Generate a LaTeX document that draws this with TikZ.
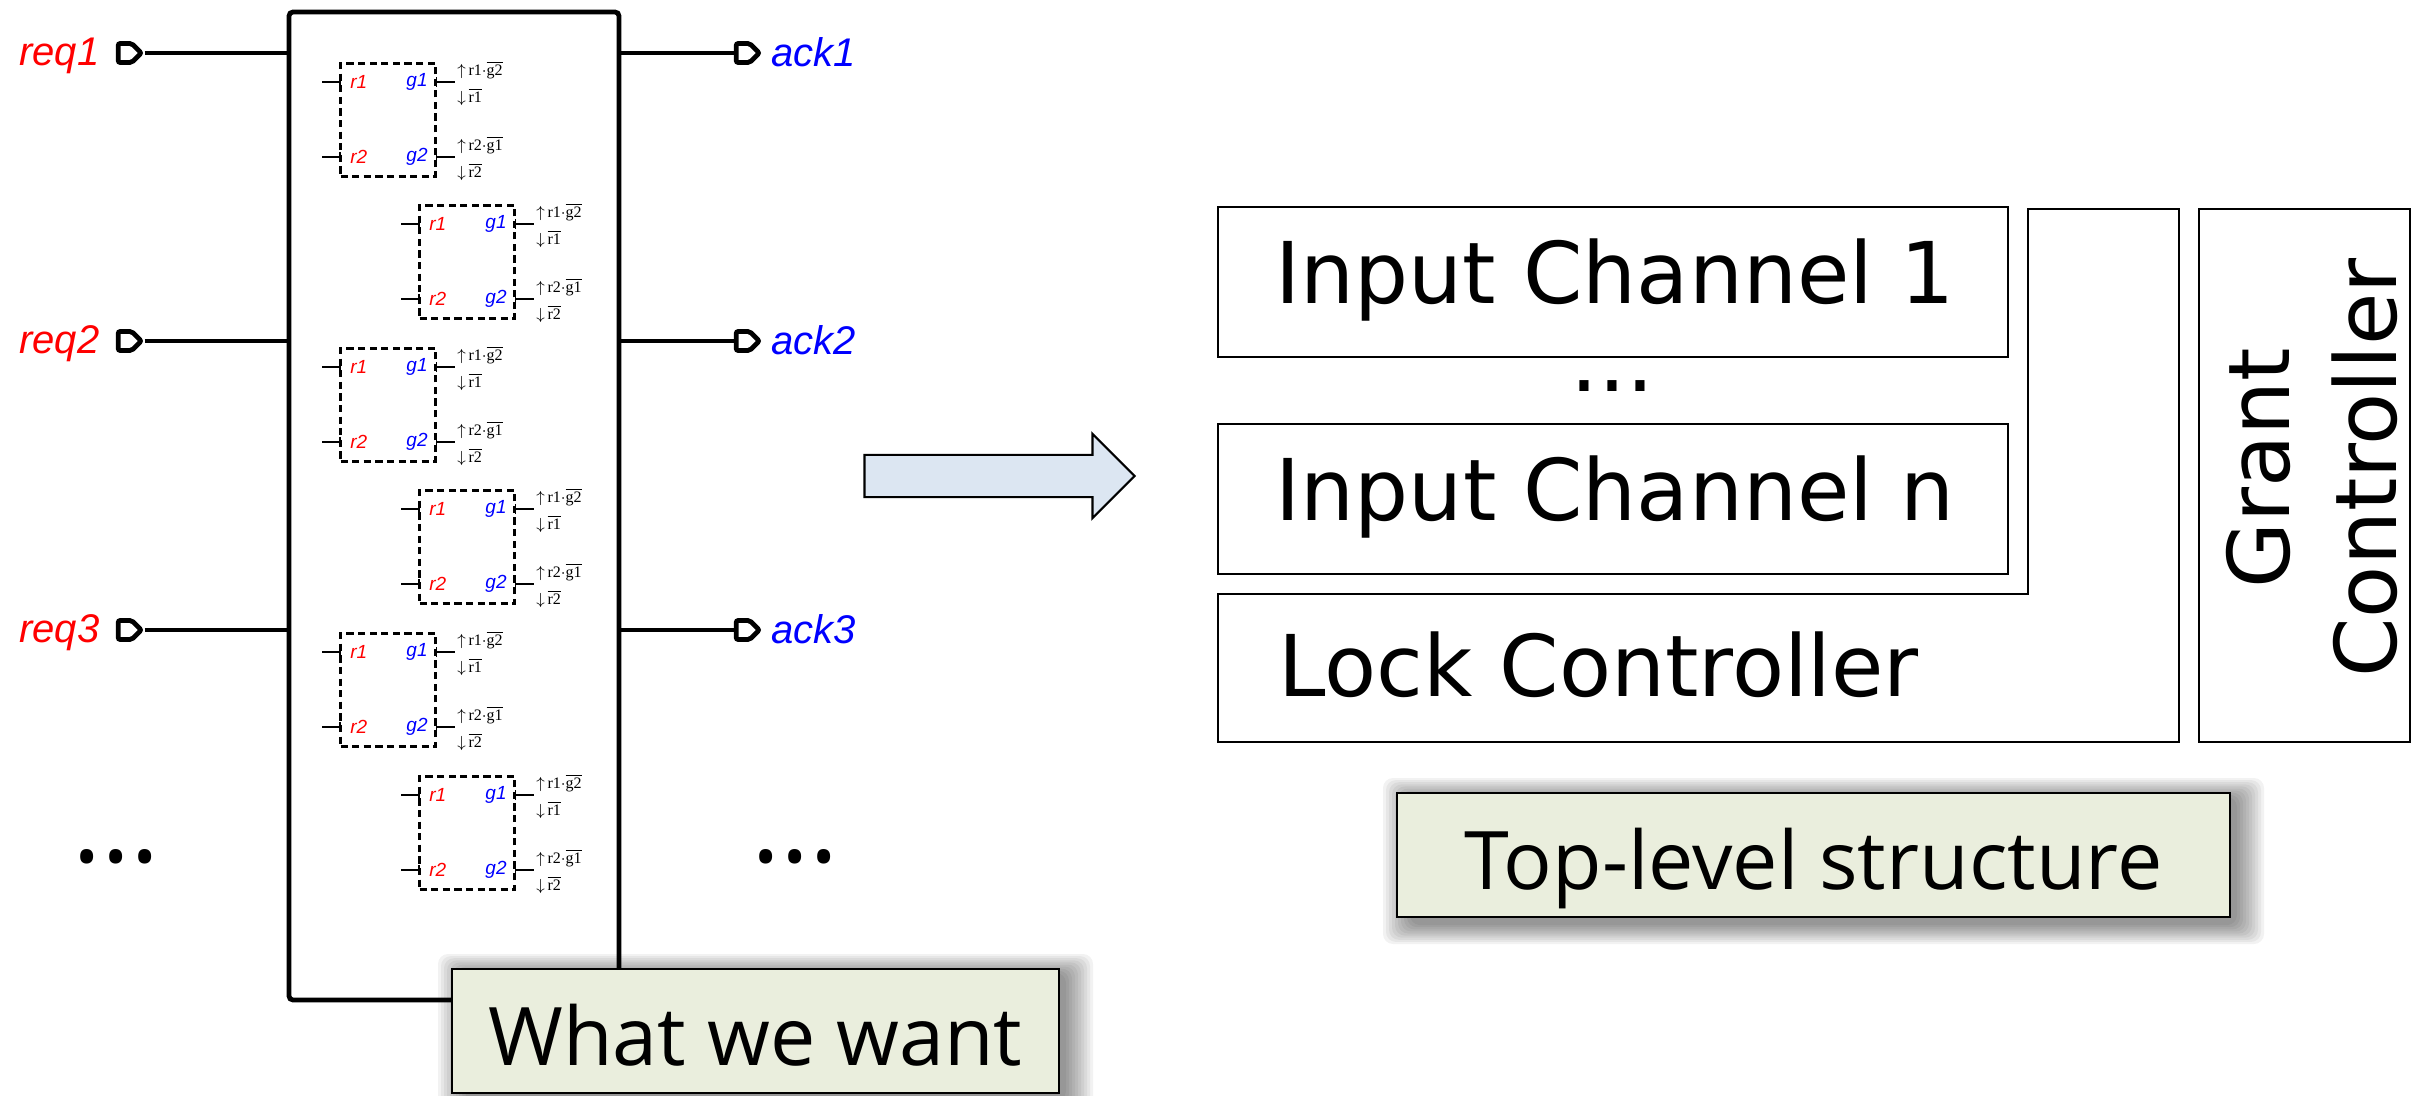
\documentclass[tikz,border=0pt]{standalone}
\usepackage{fontspec}
\setmainfont{Open Sans}
\newfontfamily\dejafont{DejaVu Sans}
\newfontfamily\arialfont{Liberation Sans}
\newfontfamily\timesfont{Liberation Serif}
\usetikzlibrary{shapes}
\usetikzlibrary{shapes.arrows}
\usetikzlibrary{shapes.symbols}
\usetikzlibrary{positioning}
\usetikzlibrary{arrows.meta}
\usetikzlibrary{calc}

\definecolor{notefill}{RGB}{234,238,221}
\definecolor{arrowfill}{RGB}{220,230,242}

\newcommand{\ovl}[1]{$\overline{\mbox{#1}}$}
\newcommand{\softshadow}[4]{%
	\foreach \d in {3,6,...,30}
	\fill[black,opacity=0.05,rounded corners=5pt] (#1+16-\d,#2+6-0.7*\d) rectangle (#3+4+\d,#4+6+0.7*\d);%
}

\tikzset{
	pin node/.style={signal,signal to=east,draw,line width=2.4pt,minimum width=11.5pt,minimum height=9.5pt,inner sep=0pt,signal pointer angle=90,rounded corners=1pt},
	wire/.style={line width=2pt},
	main box/.style={draw,rectangle,line width=2.4pt,rounded corners=2pt,inner sep=0pt,outer sep=0pt},
	req label/.style={font=\arialfont\itshape\fontsize{20}{22}\selectfont,text=red,inner sep=0pt},
	ack label/.style={font=\arialfont\itshape\fontsize{20}{22}\selectfont,text=blue,inner sep=0pt},
	unit box/.style={draw,rectangle,dash pattern=on 3.6pt off 2.2pt,line width=1.1pt,minimum width=47.5pt,minimum height=56.5pt,inner sep=0pt,outer sep=0pt},
	r sig/.style={font=\arialfont\itshape\fontsize{9.5}{10}\selectfont,text=red,inner sep=0pt,anchor=west},
	g sig/.style={font=\arialfont\itshape\fontsize{9.5}{10}\selectfont,text=blue,inner sep=0pt,anchor=east},
	stub/.style={line width=0.6pt},
	spec/.style={font=\timesfont\fontsize{8}{9}\selectfont,inner sep=0pt,anchor=west},
	block/.style={draw,rectangle,line width=0.8pt,inner sep=0pt,outer sep=0pt},
	big text/.style={font=\dejafont\fontsize{42.6}{48}\selectfont,inner sep=0pt},
	note/.style={draw,rectangle,line width=0.9pt,fill=notefill,inner sep=0pt,outer sep=0pt,text height=48pt,text depth=14pt,font=\fontsize{40.4}{44}\selectfont}
}

\begin{document}
\begin{tikzpicture}[x=0.5pt,y=-0.5pt]
		\useasboundingbox (0,0) rectangle (2420,1096);
		
		\node[main box,minimum width=165pt,minimum height=494pt] at (454,506) (main) {};
		
		% request and acknowledge pins
		\foreach \n/\y in {1/53,2/341,3/630} {
			\node[pin node] at (125,\y) (req\n) {};
			\node[req label,left=8pt of req\n,yshift=-1.5pt] (reqlabel\n) {req\n};
			\draw[wire] (req\n.east) -- (req\n.east -| main.west);
			\node[pin node] at (743,\y) (ack\n) {};
			\node[ack label,right=4pt of ack\n,yshift=0.5pt] (acklabel\n) {ack\n};
			\draw[wire] (main.east |- ack\n.west) -- (ack\n.west);
		}
		\node[font=\fontsize{55}{55}\selectfont] at (116,857) (dotsleft) {...};
		\node[font=\fontsize{55}{55}\selectfont] at (795,857) (dotsright) {...};
		
		% the six small units
		\foreach \i/\x/\y in {1/388/120,2/467/262,3/388/405,4/467/547,5/388/690,6/467/833} {
			\begin{scope}[shift={(\x,\y)}]
				\node[unit box] at (0,0) (unit\i) {};
				\node[r sig] at (-38,-38) (r1\i) {r1};
				\node[r sig] at (-38,37) (r2\i) {r2};
				\node[g sig] at (40,-38) (g1\i) {g1};
				\node[g sig] at (40,37) (g2\i) {g2};
				\coordinate (in1\i) at (-66,-38);
				\coordinate (in2\i) at (-66,37);
				\coordinate (out1\i) at (67,-38);
				\coordinate (out2\i) at (67,37);
				\draw[stub,-{Bar[width=5pt,length=0.6pt]}] (in1\i) -- (in1\i -| unit\i.west);
				\draw[stub,-{Bar[width=5pt,length=0.6pt]}] (in2\i) -- (in2\i -| unit\i.west);
				\draw[stub,{Bar[width=5pt,length=0.6pt]}-] (out1\i -| unit\i.east) -- (out1\i);
				\draw[stub,{Bar[width=5pt,length=0.6pt]}-] (out2\i -| unit\i.east) -- (out2\i);
				\node[spec] at (69,-50) (up1\i) {$\uparrow$\,r1$\cdot$\ovl{g2}};
				\node[spec] at (69,-23) (dn1\i) {$\downarrow$\,\ovl{r1}};
				\node[spec] at (69,25) (up2\i) {$\uparrow$\,r2$\cdot$\ovl{g1}};
				\node[spec] at (69,52) (dn2\i) {$\downarrow$\,\ovl{r2}};
			\end{scope}
		}
		
		\node[draw,single arrow,line width=1.1pt,fill=arrowfill,minimum height=135pt,minimum width=41pt,single arrow head extend=10.5pt,single arrow tip angle=90,inner xsep=0pt,inner ysep=10pt,outer sep=0pt] at (989,476) (go) {};
		
		% top-level structure
		\node[block,minimum width=395pt,minimum height=75pt] at (1613,282) (chan1) {};
		\node[big text] at (1615,280) (chan1text) {Input Channel 1};
		\node[font=\dejafont\fontsize{44}{44}\selectfont] at (1612,386) (dotsmid) {...};
		\node[block,minimum width=395pt,minimum height=75pt] at (1613,499) (chann) {};
		\node[big text] at (1615,497) (channtext) {Input Channel n};
		\draw[line width=0.8pt] (2028,209) -- (2179,209) -- (2179,742) -- (1218,742) -- (1218,594) -- (2028,594) -- cycle;
		\node[big text,anchor=west] at (1278,665) (lock) {Lock Controller};
		\node[block,minimum width=105.5pt,minimum height=266.5pt] at (2304.5,475.5) (grant) {};
		\node[big text,rotate=90,align=center,font=\dejafont\fontsize{42.6}{53.5}\selectfont] at (2312,468) (granttext) {Grant\\Controller};
		
		% notes
		\softshadow{452}{969}{1059}{1093}
		\node[note,minimum width=303.5pt,minimum height=62pt] at (755.5,1031) (want) {What we want};
		\softshadow{1397}{793}{2230}{917}
		\node[note,minimum width=416.5pt,minimum height=62pt] at (1813.5,855) (toplevel) {Top-level structure};
		
\end{tikzpicture}
\end{document}
